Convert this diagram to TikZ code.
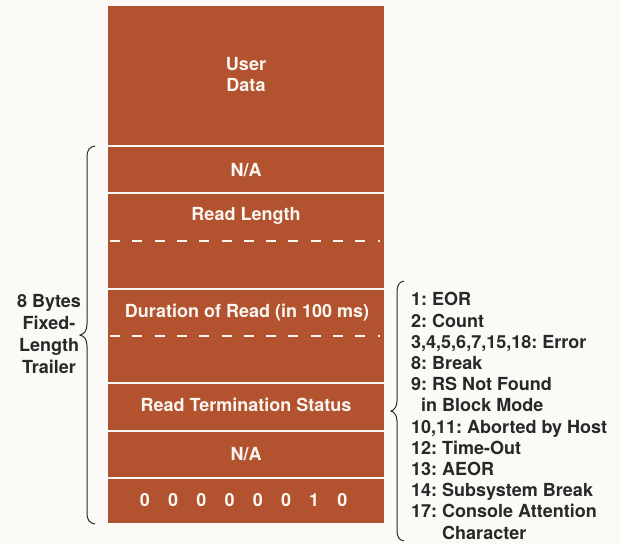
\documentclass[tikz,border=0pt]{standalone}
\usepackage{fontspec}
\setmainfont{TeX Gyre Heros}
\definecolor{rust}{RGB}{178,82,47}
\definecolor{paper}{RGB}{251,250,246}
\definecolor{ink}{RGB}{40,40,40}
\definecolor{chalk}{RGB}{250,246,240}
\frenchspacing
\begin{document}
\begin{tikzpicture}[x=1pt,y=-1pt,
  field/.style={text=chalk,font=\bfseries\fontsize{18}{21}\selectfont,align=center,inner sep=0pt},
  rule/.style={draw=chalk,line width=1.8pt},
  dashrule/.style={rule,dash pattern=on 10pt off 12.3pt},
  note/.style={text=ink,font=\bfseries\fontsize{18}{21.2}\selectfont,inner sep=0pt},
  bracket/.style={draw=ink,line width=1pt}]
\fill[paper] (0,0) rectangle (620,544);
\useasboundingbox (0,0) rectangle (620,544);

% record body
\fill[rust] (108,6) rectangle (384,523);

% field separators
\foreach \y in {146,193,289,383,431,478}
  \draw[rule] (108,\y) -- (384,\y);
\foreach \y in {241,336}
  \draw[dashrule] (110,\y) -- (380,\y);

% field labels
\node[field] (user) at (246,75) {User\\Data};
\node[field] (na1) at (246,170) {N/A};
\node[field] (len) at (246,216) {Read Length};
\node[field] (dur) at (247,313) {Duration of Read (in 100 ms)};
\node[field] (term) at (246,405) {Read Termination Status};
\node[field] (na2) at (246,454) {N/A};
\foreach \b [count=\i from 0] in {0,0,0,0,0,0,1,0}
  \node[field] (bit\i) at ({145+28.2*\i},500) {\b};

% trailer brace and label
\draw[bracket] (95,146) .. controls (89,147) and (87,150) .. (87,158)
  -- (87,324) .. controls (87,331) and (84,334) .. (80,335)
  .. controls (84,336) and (87,339) .. (87,346)
  -- (87,512) .. controls (87,520) and (89,523) .. (95,524);
\node[note,align=center,font=\bfseries\fontsize{18}{22.3}\selectfont] (trailer) at (49,334)
  {8 Bytes\\Fixed-\\Length\\Trailer};

% termination status brace and code list
\draw[bracket] (404,281) .. controls (399,282) and (397,285) .. (397,293)
  -- (397,401) .. controls (397,407) and (394,410) .. (391,411)
  .. controls (394,412) and (397,415) .. (397,421)
  -- (397,530) .. controls (397,537) and (399,540) .. (404,541);
\node[note,align=left,anchor=west] (codes) at (411,416)
  {1: EOR\\
   2: Count\\
   3,4,5,6,7,15,18: Error\\
   8: Break\\
   9: RS Not Found\\
   \hspace*{10pt}in Block Mode\\
   10,11: Aborted by Host\\
   12: Time-Out\\
   13: AEOR\\
   14: Subsystem Break\\
   17: Console Attention\\
   \phantom{17: }Character};
\end{tikzpicture}
\end{document}
